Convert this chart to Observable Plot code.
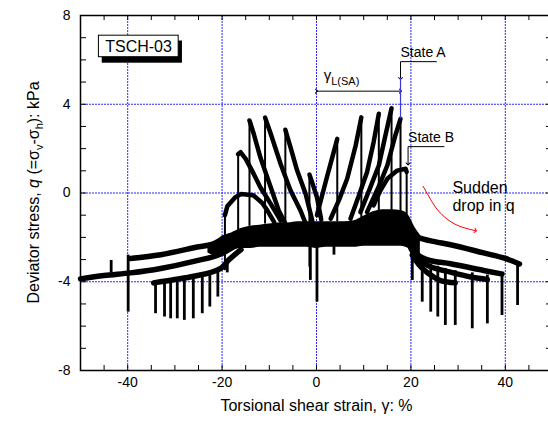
<!DOCTYPE html>
<html><head><meta charset="utf-8">
<script src="https://cdn.jsdelivr.net/npm/d3@7"></script>
<script src="https://cdn.jsdelivr.net/npm/@observablehq/plot@0.6"></script>
<style>
html,body{margin:0;padding:0;background:#fff;overflow:hidden;}
#chart{width:548px;height:421px;overflow:hidden;}
</style></head><body><div id="chart"></div>
<script>
// ---- axes ----
const xTicks = [-50,-45,-40,-35,-30,-25,-20,-15,-10,-5,0,5,10,15,20,25,30,35,40,45,50];
const xTickLabels = [-40,-20,0,20,40];
const yTicks = [-8,-7,-6,-5,-4,-3,-2,-1,0,1,2,3,4,5,6,7,8];
const yTickLabels = [-8,-4,0,4,8];
const gridX = [-40,-20,0,20,40];
const gridY = [-4,0,4];

// ---- dense central band (envelope) ----
const bandStrain = [-23,-21,-20,-18,-16,-14,-12,-10,-8,-6,-4,-2,0,2,4,6,8,10,12,14,16,18,19.5,21,22];
const bandUpper  = [-2.3,-2.1,-1.95,-1.8,-1.6,-1.5,-1.45,-1.4,-1.35,-1.35,-1.3,-1.3,-1.3,-1.3,-1.3,-1.3,-1.25,-1.05,-0.85,-0.75,-0.75,-0.8,-1.0,-1.6,-1.9];
const bandLower  = [-2.7,-2.85,-2.75,-2.6,-2.5,-2.5,-2.45,-2.45,-2.45,-2.45,-2.45,-2.45,-2.5,-2.45,-2.45,-2.45,-2.45,-2.4,-2.4,-2.4,-2.4,-2.4,-2.5,-2.7,-2.9];

// ---- strands toward large strain ----
const strandL1 = [[-18,-1.95],[-20.3,-2.2],[-26,-2.47],[-33,-2.78],[-39.4,-2.95]];
const strandL2 = [[-17,-2.35],[-20.3,-2.75],[-26,-3.08],[-33,-3.4],[-39.4,-3.6],[-45,-3.72],[-50,-3.87]];
const strandL3 = [[-16,-2.55],[-18.5,-3.0],[-20.3,-3.4],[-26,-3.75],[-30,-3.9],[-34.5,-4.05]];
const strandR1 = [[18,-1.7],[20,-1.9],[24,-2.15],[28.4,-2.33],[35.4,-2.7],[40,-2.95],[43,-3.2]];
const strandR2 = [[19.5,-2.2],[21,-2.7],[23.4,-3.0],[28.4,-3.19],[35.4,-3.49],[39.3,-3.65]];
const strandR3 = [[20,-2.5],[21.5,-3.0],[23.4,-3.25],[28.4,-3.57],[33,-3.8],[36.2,-3.9]];
const strandR4 = [[20.3,-2.8],[22,-3.3],[24.2,-3.7],[26.3,-3.95],[29.4,-4.05]];

// ---- loading curves rising to peaks ----
const fanL1 = [[-7.6,-1.24],[-9.7,-0.49],[-11.9,0.26],[-13.3,0.86],[-15.0,1.54],[-16.1,1.84],[-16.6,1.75]];
const fanL2 = [[-6.2,-1.54],[-8.0,-0.79],[-9.7,0.26],[-11.9,1.61],[-13.3,2.67],[-14.2,3.27]];
const fanL3 = [[-2.0,-1.54],[-3.4,-0.79],[-5.5,0.11],[-7.6,1.31],[-9.7,2.67],[-10.9,3.4]];
const fanL4 = [[-0.9,-1.24],[-2.3,-0.04],[-4.1,1.01],[-5.5,2.06],[-6.6,2.85]];
const fanL5 = [[1.0,-1.2],[0.1,-0.19],[-0.8,0.4],[-1.5,0.83]];
const humpL = [[-19.4,-1.0],[-18.9,-0.6],[-17.2,-0.19],[-16,-0.05],[-13.4,-0.1],[-11.5,-0.45],[-10.4,-0.79],[-9,-1.3]];
const fanR1 = [[0.1,-1.0],[1.2,-0.1],[2.3,0.79],[3.4,1.65],[4.4,2.44]];
const fanR2 = [[3.0,-1.16],[4.8,-0.3],[6.5,0.64],[8.3,2.14],[9.5,3.41]];
const fanR3 = [[7.2,-1.16],[9.0,-0.1],[10.7,0.94],[12.1,2.29],[13.2,3.57]];
const fanR4 = [[9.3,-0.86],[11.3,0.2],[13.2,1.24],[14.6,2.59],[15.9,3.82]];
const fanR5 = [[10.7,-0.86],[13.0,0.2],[15.0,1.24],[16.7,2.59],[17.8,3.34]];
const humpR = [[12.1,-0.56],[13.5,0.1],[15.0,0.64],[17.1,1.01],[18.9,1.09],[19.1,0.95]];

// ---- sudden drops at reversal (vertical) ----
const dropStrain = [-19.4,-16.6,-14.2,-10.9,-6.6,-1.5,4.4,9.5,13.2,15.9,17.8,19.1];
const dropTop    = [-1.0,1.75,3.27,3.4,2.85,0.83,2.44,3.41,3.57,3.82,3.34,1.0];
const dropBottom = [-3.5,-2.2,-1.5,-1.4,-1.4,-3.34,-1.3,-1.2,-1.2,-1.1,-1.1,-1.9];

// ---- spikes ----
const spikeStrain = [-43.5,-39.9,-34.1,-32.2,-30.9,-29.5,-28.0,-26.1,-24.2,-22.6,-20.9,-18.9,-1.3,0.1,3.7,20.3,22.4,24.2,25.7,27.3,29.4,33.0,36.2,39.3,42.6];
const spikeTop    = [-3.04,-2.8,-4.0,-3.95,-3.9,-3.85,-3.8,-3.75,-3.65,-3.55,-3.45,-3.0,-2.4,-2.4,-2.4,-2.4,-2.9,-3.2,-3.3,-3.4,-3.5,-3.6,-3.7,-3.6,-3.2];
const spikeBottom = [-3.6,-5.37,-5.44,-5.59,-5.67,-5.67,-5.74,-5.67,-5.44,-5.14,-4.69,-3.6,-3.94,-4.92,-2.8,-3.94,-4.92,-5.37,-5.59,-5.97,-5.97,-6.12,-5.9,-5.52,-5.07];

// ---- annotations ----
const suddenArrow = [[22.6,0.3],[24.2,-0.3],[26,-0.85],[28.5,-1.3],[31,-1.55],[33.7,-1.7]];
const stateALeader = [[25.4,5.92],[17.8,5.92],[17.8,5.16]];
const stateBLeader = [[27.0,2.09],[19.4,2.09],[19.4,1.31]];

const band = bandStrain.map((x,i)=>({x, lo: bandLower[i], hi: bandUpper[i]}));
const drops = dropStrain.map((x,i)=>({x, y1: dropTop[i], y2: dropBottom[i]}));
const spikes = spikeStrain.map((x,i)=>({x, y1: spikeTop[i], y2: spikeBottom[i]}));
const strands = [strandL1, strandL2, strandL3, strandR1, strandR2, strandR3, strandR4];
const fans = [fanL1, fanL2, fanL3, fanL4, fanL5, humpL, fanR1, fanR2, fanR3, fanR4, fanR5, humpR];

const FONT = "Liberation Sans, Arial, Helvetica, sans-serif";
const px = d=>d[0], py = d=>d[1];

const chart = Plot.plot({
  width: 552, height: 421,
  marginLeft: 80, marginRight: 0, marginTop: 15, marginBottom: 51,
  style: {fontFamily: FONT, maxWidth: "none", background: "white", overflow: "visible"},
  x: {domain: [-50, 50], axis: null},
  y: {domain: [-8, 8], axis: null},
  marks: [
    Plot.ruleX(gridX, {x: d=>d, stroke: "#2a2aff", strokeWidth: 1, strokeDasharray: "2,1"}),
    Plot.ruleY(gridY, {y: d=>d, stroke: "#2a2aff", strokeWidth: 1, strokeDasharray: "2,1"}),
    Plot.areaY(band, {x: "x", y1: "lo", y2: "hi", fill: "black", curve: "monotone-x"}),
    ...strands.map(s => Plot.line(s, {x: px, y: py, stroke: "black", strokeWidth: 5.5, strokeLinejoin: "round", strokeLinecap: "round", curve: "monotone-x"})),
    ...fans.map(s => Plot.line(s, {x: px, y: py, stroke: "black", strokeWidth: 4.5, strokeLinejoin: "round", strokeLinecap: "round"})),
    Plot.ruleX(drops, {x: "x", y1: "y1", y2: "y2", stroke: "black", strokeWidth: 2}),
    Plot.ruleX(spikes, {x: "x", y1: "y1", y2: "y2", stroke: "black", strokeWidth: 2.8}),
    // annotations
    Plot.rect([0], {x1: -45.4, x2: -28.4, y1: 5.85, y2: 6.85, fill: "black"}),
    Plot.rect([0], {x1: -46.1, x2: -29.2, y1: 6.12, y2: 7.09, fill: "white", stroke: "black", strokeWidth: 1}),
    Plot.text(["TSCH-03"], {x: -37.7, y: 6.6, text: d=>d, fontSize: 16, fill: "black"}),
    Plot.link([0], {x1: 0, x2: 17.8, y1: 4.59, y2: 4.59, stroke: "black", strokeWidth: 1, markerStart: "arrow", markerEnd: "arrow"}),
    Plot.line(stateALeader, {x: px, y: py, stroke: "black", strokeWidth: 1, markerEnd: "arrow"}),
    Plot.ruleX([17.8], {x: d=>d, y1: 5.16, y2: 3.34, stroke: "#3a3ad8", strokeWidth: 1.2}),
    Plot.text(["State A"], {x: 17.8, y: 6.34, text: d=>d, textAnchor: "start", fontSize: 14, fill: "black"}),
    Plot.line(stateBLeader, {x: px, y: py, stroke: "black", strokeWidth: 1, markerEnd: "arrow"}),
    Plot.text(["State B"], {x: 19.4, y: 2.51, text: d=>d, textAnchor: "start", fontSize: 14, fill: "black"}),
    Plot.line(suddenArrow, {x: px, y: py, curve: "natural", stroke: "red", strokeWidth: 1, markerEnd: "arrow"}),
    Plot.text(["Sudden"], {x: 28.8, y: 0.25, text: d=>d, textAnchor: "start", fontSize: 16, fill: "black"}),
    Plot.text(["drop in q"], {x: 28.8, y: -0.56, text: d=>d, textAnchor: "start", fontSize: 16, fill: "black"}),
    // frame and inward ticks
    Plot.frame({stroke: "black", strokeWidth: 1.5}),
    Plot.tickX(xTicks, {x: d=>d, insetTop: 350, stroke: "black", strokeWidth: 1}),
    Plot.tickX(xTicks, {x: d=>d, insetBottom: 350, stroke: "black", strokeWidth: 1}),
    Plot.tickY(yTicks, {y: d=>d, insetRight: 466, stroke: "black", strokeWidth: 1}),
    Plot.tickY(yTicks, {y: d=>d, insetLeft: 466, stroke: "black", strokeWidth: 1}),
    Plot.text(xTickLabels, {x: d=>d, frameAnchor: "bottom", dy: 16, text: d=>String(d), fontSize: 14, fill: "black"}),
    Plot.text(yTickLabels, {y: d=>d, frameAnchor: "left", dx: -10, textAnchor: "end", text: d=>String(d), fontSize: 14, fill: "black"}),
    Plot.text(["Torsional shear strain, \u03b3: %"], {frameAnchor: "bottom", dy: 40, text: d=>d, fontSize: 16, fill: "black"})
  ]
});
document.getElementById("chart").appendChild(chart);

const svg = d3.select(chart);
const sx = chart.scale("x"), sy = chart.scale("y");
// y-axis title
const yt = svg.append("text")
  .attr("transform", `translate(33,${sy.apply(0)}) rotate(-90)`)
  .attr("text-anchor", "middle").attr("dy", "0.35em")
  .attr("font-size", 16).attr("fill", "black").style("font-family", FONT);
yt.append("tspan").text("Deviator stress, ");
yt.append("tspan").attr("font-style", "italic").text("q");
yt.append("tspan").text(" (=\u03c3");
yt.append("tspan").attr("font-size", 11).attr("dy", 4).text("v");
yt.append("tspan").attr("dy", -4).text("-\u03c3");
yt.append("tspan").attr("font-size", 11).attr("dy", 4).text("h");
yt.append("tspan").attr("dy", -4).text("): kPa");
// gamma_L(SA) label
const gl = svg.append("text")
  .attr("x", sx.apply(5.4)).attr("y", sy.apply(5.07))
  .attr("font-size", 15).attr("fill", "black").style("font-family", FONT);
gl.append("tspan").text("\u03b3");
gl.append("tspan").attr("font-size", 11).attr("dy", 5).text("L(SA)");
</script></body></html>
